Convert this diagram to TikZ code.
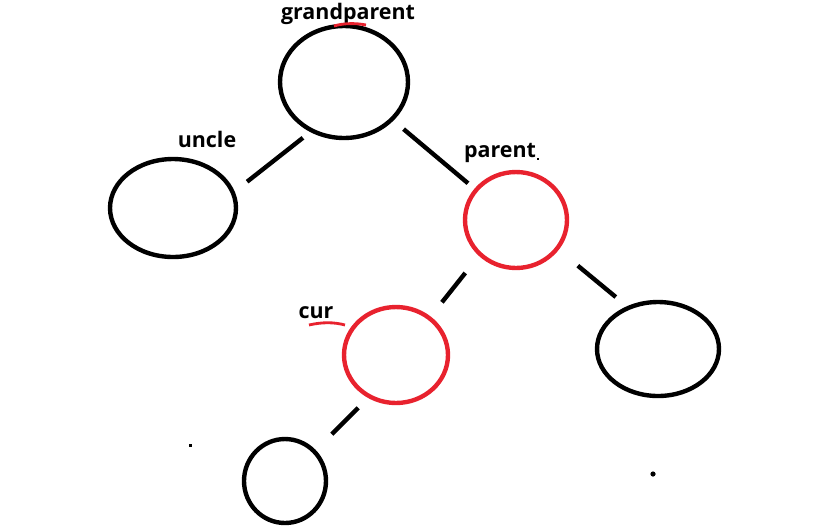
\documentclass[tikz,border=0pt]{standalone}
\usepackage{fontspec}
\setmainfont{Open Sans}
\usepackage{tikz}
\usetikzlibrary{shapes.geometric,positioning}
\definecolor{redcol}{HTML}{E8222E}

\begin{document}
\begin{tikzpicture}[x=0.02cm,y=-0.02cm,line width=2.5pt,
  tnode/.style={ellipse,draw,inner sep=0pt},
  link/.style={line cap=butt},
  lbl/.style={font=\fontsize{12.2}{14}\selectfont\bfseries,inner sep=0pt}]
  \useasboundingbox (0,0) rectangle (838,525);
  \node[tnode,minimum width=2.56cm,minimum height=2.24cm] (gp) at (344,82) {};
  \node[tnode,minimum width=2.52cm,minimum height=1.96cm] (uncle) at (173,208) {};
  \node[tnode,redcol,minimum width=2.04cm,minimum height=1.92cm] (parent) at (516,220) {};
  \node[tnode,redcol,minimum width=2.08cm,minimum height=1.92cm] (cur) at (396,355) {};
  \node[tnode,minimum width=2.44cm,minimum height=1.88cm] (right) at (658,349) {};
  \node[tnode,minimum width=1.64cm,minimum height=1.68cm] (bottom) at (285,481) {};
  \node[lbl] (gplabel) at (348,14) {grandparent};
  \node[lbl] (unclelabel) at (207,139) {uncle};
  \node[lbl] (parentlabel) at (500,153) {parent};
  \node[lbl] (curlabel) at (316,313) {cur};
  \draw[link,shorten <=5.3pt,shorten >=9pt] (gp.236.5) -- (uncle.15);
  \draw[link,shorten <=7.5pt,shorten >=4.8pt] (gp.322.5) -- (parent.143);
  \draw[link,shorten <=12.4pt,shorten >=10.3pt] (parent.224) -- (cur.48);
  \draw[link,shorten <=14.1pt,shorten >=8.2pt] (parent.325.5) -- (right.126.6);
  \draw[link,shorten <=7.9pt,shorten >=12.8pt] (cur.237) -- (bottom.45.5);
  \draw[redcol,line width=1.6pt] (334,26) .. controls (344,23) and (356,23) .. (366,25);
  \draw[redcol,line width=1.6pt] (309,325) .. controls (322,322) and (334,322) .. (345,325);
  \fill (537,158) rectangle (539,160);
  \fill (189,444) rectangle (192,447);
  \fill (653,474) circle (2.6);
\end{tikzpicture}
\end{document}
